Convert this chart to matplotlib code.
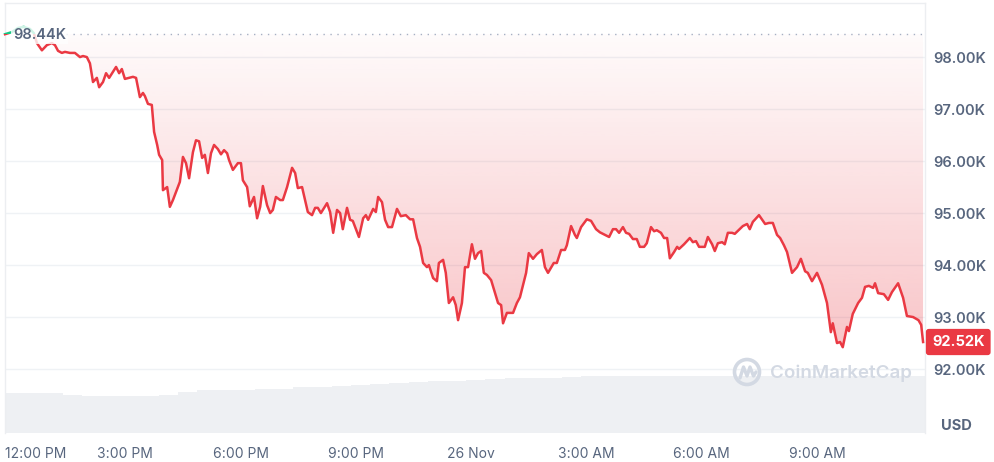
import numpy as np
import matplotlib
matplotlib.use("Agg")
import matplotlib.pyplot as plt
from matplotlib.path import Path
from matplotlib.patches import Circle
import matplotlib.transforms as mtransforms

plt.rcParams['font.family'] = ['Inter', 'DejaVu Sans']

# ---- data: hours since 12:00 PM, price in thousands USD ----
times = [
    -0.13, 0.05, 0.21, 0.36, 0.52, 0.62, 0.70, 0.83, 0.96, 1.09,
    1.17, 1.25, 1.35, 1.43, 1.56, 1.69, 1.82, 1.90, 2.00, 2.08,
    2.16, 2.26, 2.32, 2.42, 2.50, 2.58, 2.76, 2.84, 2.91, 2.99,
    3.20, 3.28, 3.38, 3.46, 3.51, 3.59, 3.69, 3.75, 3.83, 3.88,
    3.96, 3.98, 4.09, 4.16, 4.24, 4.42, 4.50, 4.58, 4.66, 4.76,
    4.84, 4.92, 5.00, 5.07, 5.15, 5.23, 5.31, 5.41, 5.49, 5.57,
    5.65, 5.70, 5.80, 5.93, 6.01, 6.06, 6.17, 6.24, 6.35, 6.43,
    6.51, 6.58, 6.69, 6.77, 6.84, 6.92, 7.03, 7.10, 7.21, 7.34,
    7.42, 7.49, 7.60, 7.75, 7.86, 7.94, 8.01, 8.09, 8.25, 8.33,
    8.41, 8.51, 8.59, 8.66, 8.77, 8.85, 8.92, 9.08, 9.19, 9.26,
    9.32, 9.45, 9.52, 9.58, 9.68, 9.76, 9.84, 9.94, 10.07, 10.17,
    10.30, 10.41, 10.49, 10.59, 10.67, 10.75, 10.85, 10.90, 11.01, 11.11,
    11.16, 11.27, 11.34, 11.42, 11.53, 11.60, 11.66, 11.76, 11.84, 11.92,
    12.02, 12.10, 12.18, 12.26, 12.33, 12.41, 12.52, 12.70, 12.78, 12.83,
    12.93, 13.01, 13.09, 13.19, 13.27, 13.43, 13.50, 13.61, 13.71, 13.84,
    13.92, 14.00, 14.15, 14.23, 14.34, 14.44, 14.49, 14.60, 14.70, 14.75,
    14.86, 15.01, 15.12, 15.25, 15.35, 15.59, 15.69, 15.77, 15.85, 15.95,
    16.03, 16.11, 16.21, 16.31, 16.39, 16.50, 16.57, 16.68, 16.76, 16.83,
    16.94, 17.02, 17.10, 17.17, 17.28, 17.36, 17.41, 17.54, 17.69, 17.77,
    17.85, 17.93, 18.08, 18.16, 18.27, 18.34, 18.42, 18.53, 18.60, 18.68,
    18.79, 18.86, 19.07, 19.18, 19.25, 19.33, 19.49, 19.65, 19.75, 19.85,
    19.96, 20.04, 20.14, 20.22, 20.35, 20.48, 20.58, 20.69, 20.76, 20.87,
    21.00, 21.13, 21.26, 21.36, 21.41, 21.52, 21.60, 21.67, 21.78, 21.83,
    21.93, 22.07, 22.17, 22.25, 22.35, 22.46, 22.51, 22.59, 22.74, 22.85,
    22.95, 23.11, 23.24, 23.34, 23.50, 23.64, 23.71, 23.76,
]
prices = [
    98.44, 98.48, 98.56, 98.58, 98.54, 98.46, 98.27, 98.13, 98.23, 98.27,
    98.23, 98.12, 98.08, 98.10, 98.08, 98.08, 98.00, 98.02, 98.00, 97.88,
    97.52, 97.60, 97.42, 97.52, 97.69, 97.60, 97.81, 97.69, 97.77, 97.58,
    97.62, 97.60, 97.23, 97.31, 97.25, 97.10, 97.08, 96.56, 96.31, 96.12,
    96.02, 95.44, 95.50, 95.12, 95.25, 95.60, 96.08, 95.96, 95.67, 96.17,
    96.40, 96.38, 96.06, 96.12, 95.77, 96.15, 96.31, 96.23, 96.13, 96.21,
    96.15, 96.02, 95.83, 95.96, 95.96, 95.63, 95.50, 95.13, 95.31, 94.90,
    95.12, 95.52, 95.15, 95.00, 95.06, 95.31, 95.25, 95.25, 95.50, 95.87,
    95.77, 95.48, 95.50, 95.02, 94.96, 95.10, 95.10, 95.00, 95.19, 95.02,
    94.62, 95.06, 95.00, 94.69, 95.10, 94.87, 94.85, 94.54, 94.90, 94.96,
    94.87, 95.08, 95.02, 95.31, 95.21, 94.87, 94.73, 94.73, 95.08, 94.94,
    94.96, 94.88, 94.88, 94.52, 94.35, 94.04, 93.96, 94.00, 93.75, 93.69,
    94.04, 94.10, 93.85, 93.27, 93.38, 93.23, 92.94, 93.27, 93.96, 93.96,
    94.40, 94.12, 94.23, 94.27, 93.85, 93.81, 93.71, 93.27, 93.23, 92.88,
    93.08, 93.08, 93.08, 93.27, 93.38, 93.85, 94.23, 94.12, 94.21, 94.29,
    93.96, 93.85, 94.04, 94.04, 94.29, 94.29, 94.38, 94.75, 94.58, 94.52,
    94.73, 94.88, 94.85, 94.69, 94.63, 94.54, 94.69, 94.69, 94.62, 94.73,
    94.62, 94.60, 94.50, 94.50, 94.35, 94.35, 94.42, 94.73, 94.65, 94.67,
    94.62, 94.52, 94.52, 94.13, 94.25, 94.35, 94.31, 94.40, 94.52, 94.44,
    94.46, 94.35, 94.35, 94.54, 94.40, 94.27, 94.42, 94.44, 94.40, 94.62,
    94.62, 94.60, 94.75, 94.79, 94.69, 94.83, 94.96, 94.79, 94.81, 94.81,
    94.58, 94.52, 94.38, 94.25, 93.85, 93.96, 94.12, 93.88, 93.85, 93.69,
    93.85, 93.62, 93.27, 92.71, 92.88, 92.50, 92.52, 92.42, 92.81, 92.73,
    93.06, 93.27, 93.37, 93.58, 93.60, 93.56, 93.65, 93.46, 93.44, 93.33,
    93.48, 93.65, 93.37, 93.02, 93.00, 92.94, 92.85, 92.52,
]
assert len(times) == len(prices)

baseline = 98.44
last_price = 92.52

# half-hourly volume (relative units)
volume = [
    40, 40, 40, 38, 37, 37, 37, 37, 38, 41,
    43, 43, 43, 44, 44, 46, 46, 47, 48, 49,
    50, 51, 52, 52, 53, 54, 55, 55, 55, 56,
    57, 57, 57, 57, 57, 57, 57, 57, 57, 57,
    57, 57, 57, 57, 57, 57, 57, 57,
]
vol_start = -0.13
vol_step = 0.5

ytick_vals = [92, 93, 94, 95, 96, 97, 98]
ytick_labels = ["92.00K", "93.00K", "94.00K", "95.00K", "96.00K", "97.00K", "98.00K"]
xtick_vals = [3, 6, 9, 12, 15, 18, 21]
xtick_labels = ["3:00 PM", "6:00 PM", "9:00 PM", "26 Nov", "3:00 AM", "6:00 AM", "9:00 AM"]
first_label = "12:00 PM"

RED = "#ea3943"
GREEN = "#16c784"
GRAY_TXT = "#58667e"

W, H = 995, 462
fig = plt.figure(figsize=(W / 100, H / 100), dpi=100)
fig.patch.set_facecolor("white")

left, right, top, bottom = 5, 925, 3, 433
ax_rect = [left / W, 1 - bottom / H, (right - left) / W, (bottom - top) / H]

# volume axis (behind)
axv = fig.add_axes(ax_rect)
vx = [vol_start + vol_step * i for i in range(len(volume))]
axv.bar(vx, volume, width=vol_step, align="edge", color="#eef0f3", linewidth=0)
axv.set_ylim(0, bottom - top)
axv.set_xlim(-0.13, 23.81)
axv.axis("off")

ax = fig.add_axes(ax_rect)
ax.patch.set_alpha(0)
ax.set_xlim(-0.13, 23.81)
ax.set_ylim(90.77, 99.04)

for v in ytick_vals:
    ax.axhline(v, color="#eff2f5", lw=1, zorder=0)

t = np.array(times)
p = np.array(prices)

# gradient fill between line and baseline
fb = ax.fill_between(t, p, baseline, where=p <= baseline, interpolate=True,
                     facecolor="none", edgecolor="none")
paths = fb.get_paths()
clip = Path.make_compound_path(*paths)
n = 256
grad = np.zeros((n, 1, 4))
rgb = matplotlib.colors.to_rgb(RED)
grad[:, 0, 0:3] = rgb
grad[:, 0, 3] = np.linspace(0.30, 0.02, n)
im = ax.imshow(grad, extent=[-0.13, 23.81, 92.3, baseline], origin="lower",
               aspect="auto", zorder=1, interpolation="bilinear")
im.set_clip_path(clip, transform=ax.transData)
ax.set_xlim(-0.13, 23.81)
ax.set_ylim(90.77, 99.04)

# line: red below baseline, green above
l_red, = ax.plot(t, p, color=RED, lw=1.8, zorder=3, solid_joinstyle="round")
l_grn, = ax.plot(t, p, color=GREEN, lw=1.8, zorder=3, solid_joinstyle="round")
above = matplotlib.patches.Rectangle((-1, baseline), 30, 5, transform=ax.transData)
below = matplotlib.patches.Rectangle((-1, 80), 30, baseline - 80, transform=ax.transData)
l_grn.set_clip_path(above)
l_red.set_clip_path(below)

# baseline dotted
ax.plot([1.45, 23.81], [baseline, baseline], color="#a6b0c3", lw=1,
        linestyle=(0, (1, 4)), zorder=2)
ax.text(0.08, baseline - 0.02, "98.44K", ha="left", va="center", fontsize=10.5,
        color=GRAY_TXT, fontweight="semibold", zorder=5,
        bbox=dict(boxstyle="square,pad=0.15", facecolor="white", edgecolor="none", alpha=0.8))

# axes styling
for s in ["left", "top", "right", "bottom"]:
    ax.spines[s].set_color("#eceef1")
    ax.spines[s].set_linewidth(1)
ax.spines["bottom"].set_visible(False)

ax.yaxis.tick_right()
ax.set_yticks(ytick_vals)
ax.set_yticklabels(ytick_labels)
ax.tick_params(axis="y", length=0, pad=6, labelsize=10.5, labelcolor=GRAY_TXT)
for lab in ax.get_yticklabels():
    lab.set_fontweight("semibold")

ax.set_xticks(xtick_vals)
ax.set_xticklabels(xtick_labels)
ax.tick_params(axis="x", length=0, pad=10, labelsize=10, labelcolor=GRAY_TXT)
ax.text(-0.13, 90.77, first_label, transform=ax.transData, ha="left", va="top",
        fontsize=10, color=GRAY_TXT)
# position first label same as tick labels
tr = ax.get_xaxis_transform()
ax.texts[-1].remove()
ax.text(-0.13, 0, first_label, transform=tr + mtransforms.ScaledTranslation(0, -10 / 72, fig.dpi_scale_trans),
        ha="left", va="top", fontsize=10, color=GRAY_TXT)

# price badge
ax.text(1.0 + 7 / (right - left), last_price, "92.52K", transform=ax.get_yaxis_transform(),
        ha="left", va="center", fontsize=10.5, color="white", fontweight="bold", zorder=6,
        clip_on=False,
        bbox=dict(boxstyle="round,pad=0.42,rounding_size=0.2", facecolor=RED, edgecolor="none"))

# USD label
fig.text(956 / W, 1 - 426 / H, "USD", ha="center", va="center", fontsize=10.5,
         color=GRAY_TXT, fontweight="bold")

# watermark
wm_color = "#d3d9e3"
fig.text(770 / W, 1 - 373 / H, "CoinMarketCap", ha="left", va="center", fontsize=13.5,
         color=wm_color, fontweight="semibold")
fig.patches.append(Circle((747 / W * W, (H - 372)), 12.5, transform=None,
                          fill=False, edgecolor=wm_color, lw=2.6))
mx = [740, 743.5, 747, 750, 753.5, 756]
my = [378, 367, 376, 367, 376, 372]
fig.lines.append(matplotlib.lines.Line2D(mx, [H - v for v in my], transform=None,
                                         color=wm_color, lw=2.4, solid_joinstyle="round",
                                         solid_capstyle="round"))

fig.savefig("out.png", dpi=100, facecolor="white")
